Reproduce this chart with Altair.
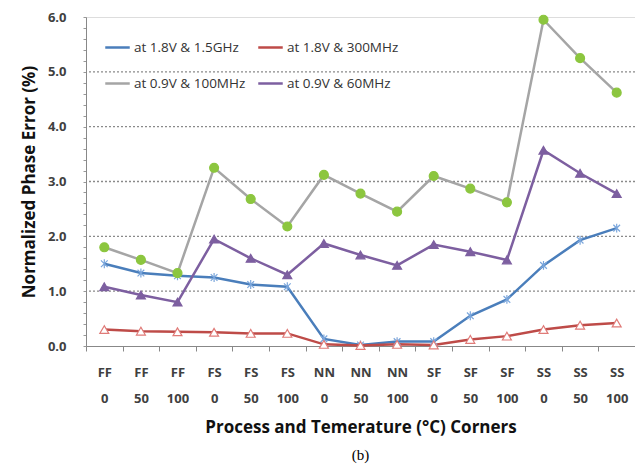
import altair as alt
import pandas as pd

process = ["FF", "FF", "FF", "FS", "FS", "FS", "NN", "NN", "NN", "SF", "SF", "SF", "SS", "SS", "SS"]
temps = ["0", "50", "100"] * 5
corners = [f"{p} {t}" for p, t in zip(process, temps)]

series_names = ["at 1.8V & 1.5GHz", "at 1.8V & 300MHz", "at 0.9V & 100MHz", "at 0.9V & 60MHz"]
marker_names = ["asterisk", "open triangle", "dot", "triangle"]
v_18_15g = [1.50, 1.33, 1.28, 1.25, 1.12, 1.08, 0.13, 0.02, 0.08, 0.08, 0.55, 0.85, 1.47, 1.93, 2.15]
v_18_300m = [0.30, 0.27, 0.26, 0.25, 0.23, 0.23, 0.03, 0.01, 0.03, 0.02, 0.12, 0.18, 0.30, 0.38, 0.42]
v_09_100m = [1.80, 1.57, 1.33, 3.25, 2.68, 2.18, 3.12, 2.78, 2.45, 3.10, 2.87, 2.62, 5.95, 5.25, 4.62]
v_09_60m = [1.08, 0.93, 0.80, 1.95, 1.60, 1.30, 1.87, 1.66, 1.47, 1.85, 1.72, 1.57, 3.57, 3.15, 2.78]

line_colors = ["#4A7EBB", "#BE4B48", "#A5A5A5", "#7D5FA0"]
marker_fill = ["transparent", "#FFFFFF", "#8CC63F", "#7D5FA0"]
marker_stroke = ["#7AA6DC", "#E07B78", "#8CC63F", "#7D5FA0"]
asterisk = "M-0.75,-0.75L0.75,0.75M-0.75,0.75L0.75,-0.75M0,-1L0,1"
marker_shapes = [asterisk, "triangle-up", "circle", "triangle-up"]

grid_values = [1, 2, 3, 4, 5]
y_ticks = [0, 0.2, 0.4, 0.6, 0.8, 1, 1.2, 1.4, 1.6, 1.8, 2, 2.2, 2.4, 2.6, 2.8, 3,
           3.2, 3.4, 3.6, 3.8, 4, 4.2, 4.4, 4.6, 4.8, 5, 5.2, 5.4, 5.6, 5.8, 6]

rows = []
for name, mname, vals in zip(series_names, marker_names, [v_18_15g, v_18_300m, v_09_100m, v_09_60m]):
    for c, v in zip(corners, vals):
        rows.append({"corner": c, "series": name, "marker": mname, "value": v})
df = pd.DataFrame(rows)
grid_df = pd.DataFrame({"value": grid_values})

is_int = "abs(datum.value - round(datum.value)) < 0.001"

x_enc = alt.X(
    "corner:N",
    sort=corners,
    bandPosition=0.5,
    scale=alt.Scale(type="band", paddingInner=0, paddingOuter=0, domain=corners),
    axis=alt.Axis(
        title="Process and Temerature (°C) Corners",
        labelExpr="split(datum.label, ' ')",
        labelAngle=0,
        labelFont="Open Sans",
        labelFontWeight="bold",
        labelFontSize=13,
        labelColor="#404040",
        labelLineHeight=26,
        labelPadding=15,
        tickBand="extent",
        tickSize=5,
        tickColor="#888888",
        domainColor="#888888",
        titleFont="Open Sans",
        titleFontWeight="bold",
        titleFontSize=17,
        titleColor="#111111",
        titlePadding=14,
        grid=False,
    ),
)

y_enc = alt.Y(
    "value:Q",
    scale=alt.Scale(domain=[0, 6], nice=False),
    axis=alt.Axis(
        title="Normalized Phase Error (%)",
        values=y_ticks,
        labelExpr=f"{is_int} ? format(datum.value, '.1f') : ''",
        labelFont="Open Sans",
        labelFontWeight="bold",
        labelFontSize=13,
        labelColor="#404040",
        labelPadding=17,
        tickSize=3,
        tickColor="#999999",
        domainColor="#888888",
        grid=False,
        titleFont="Open Sans",
        titleFontWeight="bold",
        titleFontSize=17,
        titleColor="#111111",
        titlePadding=9,
    ),
)

grid = alt.Chart(grid_df).mark_rule(color="#8a8a8a", strokeWidth=1.3, strokeDash=[2, 2]).encode(y=y_enc)

lines = alt.Chart(df).mark_line(strokeWidth=2.5).encode(
    x=x_enc,
    y=y_enc,
    color=alt.Color(
        "series:N",
        sort=series_names,
        scale=alt.Scale(domain=series_names, range=line_colors),
        legend=alt.Legend(
            title=None,
            orient="none",
            legendX=18,
            legendY=17,
            direction="horizontal",
            columns=2,
            columnPadding=7,
            rowPadding=16,
            symbolType="stroke",
            symbolSize=600,
            symbolStrokeWidth=2.5,
            labelFont="Open Sans",
            labelFontSize=13.5,
            labelColor="#333333",
            labelOffset=3,
            labelLimit=200,
        ),
    ),
)

points = alt.Chart(df).mark_point(size=80, filled=False, strokeWidth=1.2, opacity=1).encode(
    x=x_enc,
    y=y_enc,
    shape=alt.Shape("marker:N", scale=alt.Scale(domain=marker_names, range=marker_shapes), legend=None),
    fill=alt.Fill("marker:N", scale=alt.Scale(domain=marker_names, range=marker_fill), legend=None),
    stroke=alt.Stroke("marker:N", scale=alt.Scale(domain=marker_names, range=marker_stroke), legend=None),
)

chart = (
    alt.layer(grid, lines, points)
    .properties(
        width=549,
        height=329,
        title=alt.TitleParams(
            "(b)", orient="bottom", anchor="middle", font="Liberation Serif",
            fontSize=15, fontWeight="normal", color="#000000", offset=13,
        ),
        autosize=alt.AutoSizeParams(type="none"),
        padding={"left": 78, "top": 9, "right": 0, "bottom": 120},
    )
    .configure_view(stroke="#666666", strokeWidth=1.2)
    .configure(background="white")
)

chart.save("out.html", embed_options={"renderer": "svg", "actions": False})
